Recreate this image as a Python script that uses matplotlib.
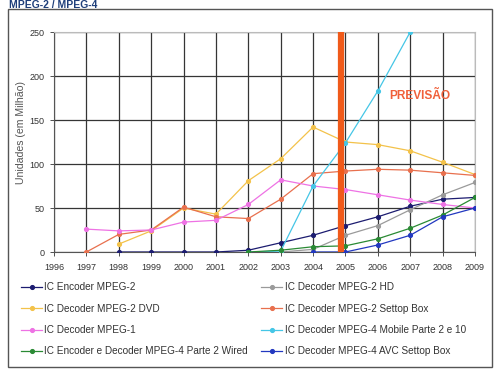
import matplotlib
matplotlib.use("Agg")
import matplotlib.pyplot as plt
from matplotlib.patches import Rectangle
import numpy as np

plt.rcParams['font.family'] = ['Liberation Sans', 'DejaVu Sans']

years = list(range(1996, 2010))
y_ticks = [0, 50, 100, 150, 200, 250]

yrs_enc_mpeg2 = [1998, 1999, 2000, 2001, 2002, 2003, 2004, 2005, 2006, 2007, 2008, 2009]
enc_mpeg2 = [0, 0, 0, 0, 2, 10.5, 19, 30, 40, 52, 60, 62]

yrs_hd = [2003, 2004, 2005, 2006, 2007, 2008, 2009]
dec_hd = [0, 3, 19, 30, 48, 65, 79]

yrs_dvd = [1998, 1999, 2000, 2001, 2002, 2003, 2004, 2005, 2006, 2007, 2008, 2009]
dec_dvd = [9, 24, 50, 43, 81, 106, 142, 125, 122, 115, 102, 88]

yrs_stb = [1997, 1998, 1999, 2000, 2001, 2002, 2003, 2004, 2005, 2006, 2007, 2008, 2009]
dec_stb = [0, 20, 25, 51, 40, 38, 60, 89, 92, 94, 93, 90, 87]

yrs_mpeg1 = [1997, 1998, 1999, 2000, 2001, 2002, 2003, 2004, 2005, 2006, 2007, 2008, 2009]
dec_mpeg1 = [26, 24, 25, 34, 36, 54, 82, 75, 71, 65, 59, 54, 50]

yrs_mobile = [2002, 2003, 2004, 2005, 2006, 2007]
dec_mobile = [0, 1, 75, 124, 183, 250]

yrs_wired = [2002, 2003, 2004, 2005, 2006, 2007, 2008, 2009]
encdec_wired = [0, 2, 6, 7, 15, 27, 42, 62]

yrs_avc = [2004, 2005, 2006, 2007, 2008, 2009]
dec_avc = [0, 0, 8, 19, 40, 50]

forecast_year = 2004.85

series = [
    ("IC Encoder MPEG-2", yrs_enc_mpeg2, enc_mpeg2, "#1c1c70"),
    ("IC Decoder MPEG-2 HD", yrs_hd, dec_hd, "#9a9a9a"),
    ("IC Decoder MPEG-2 DVD", yrs_dvd, dec_dvd, "#f3c24a"),
    ("IC Decoder MPEG-2 Settop Box", yrs_stb, dec_stb, "#e8704e"),
    ("IC Decoder MPEG-1", yrs_mpeg1, dec_mpeg1, "#ee72e4"),
    ("IC Decoder MPEG-4 Mobile Parte 2 e 10", yrs_mobile, dec_mobile, "#45c6e6"),
    ("IC Encoder e Decoder MPEG-4 Parte 2 Wired", yrs_wired, encdec_wired, "#2a8a34"),
    ("IC Decoder MPEG-4 AVC Settop Box", yrs_avc, dec_avc, "#2238c0"),
]

W, H = 495, 371
fig = plt.figure(figsize=(W / 100, H / 100), dpi=100)
fig.patch.set_facecolor("white")

# outer border
fig.patches.append(Rectangle((8 / W, 1 - 367 / H), (492 - 8) / W, (367 - 9) / H,
                             transform=fig.transFigure, fill=False,
                             edgecolor="#555555", linewidth=1.0))
fig.text(9 / W, 1 - 0.5 / H, "MPEG-2 / MPEG-4", color="#1f3f7a", fontsize=7.5,
         fontweight="bold", va="top", ha="left")

ax = fig.add_axes([54 / W, 1 - 252 / H, (475 - 54) / W, (252 - 32) / H])

handles = {}
for name, xs, ys, col in series:
    h, = ax.plot(xs, ys, color=col, lw=0.9, marker="o", ms=2.7,
                 mec=col, mfc=col, label=name, clip_on=True, zorder=3)
    handles[name] = h

ax.axvline(forecast_year, color="#f05a1a", lw=4.5, zorder=4)
ax.text(2007.3, 177, "PREVISÃO", color="#f0603a", fontsize=8.6,
        fontweight="bold", ha="center", va="center", zorder=5)

ax.set_xlim(1996, 2009)
ax.set_ylim(0, 250)
ax.set_xticks(years)
ax.set_xticklabels([str(y) for y in years])
ax.set_yticks(y_ticks)
ax.grid(True, color="#353535", lw=0.9, zorder=1)
ax.set_axisbelow(True)
ax.tick_params(axis="both", labelsize=6.5, colors="#333333", length=3, width=0.6)
ax.tick_params(axis="x", pad=5)
ax.tick_params(axis="y", pad=4)
for s in ["top", "right"]:
    ax.spines[s].set_color("#bbbbbb")
    ax.spines[s].set_linewidth(0.8)
for s in ["left", "bottom"]:
    ax.spines[s].set_color("#555555")
    ax.spines[s].set_linewidth(0.8)

fig.text(21 / W, 1 - 133 / H, "Unidades (em Milhão)", rotation=90,
         fontsize=7.6, color="#555555", ha="center", va="center")

order = ["IC Encoder MPEG-2", "IC Decoder MPEG-2 DVD", "IC Decoder MPEG-1",
         "IC Encoder e Decoder MPEG-4 Parte 2 Wired",
         "IC Decoder MPEG-2 HD", "IC Decoder MPEG-2 Settop Box",
         "IC Decoder MPEG-4 Mobile Parte 2 e 10", "IC Decoder MPEG-4 AVC Settop Box"]
fig.legend([handles[n] for n in order], order, ncol=2, loc="upper left",
           bbox_to_anchor=(21 / W, 1 - 282 / H), frameon=False, fontsize=7.2,
           handlelength=2.1, handletextpad=0.25, columnspacing=1.3,
           labelspacing=1.15, borderaxespad=0, borderpad=0,
           labelcolor="#333333")

fig.savefig("out.png", dpi=100, facecolor="white")
